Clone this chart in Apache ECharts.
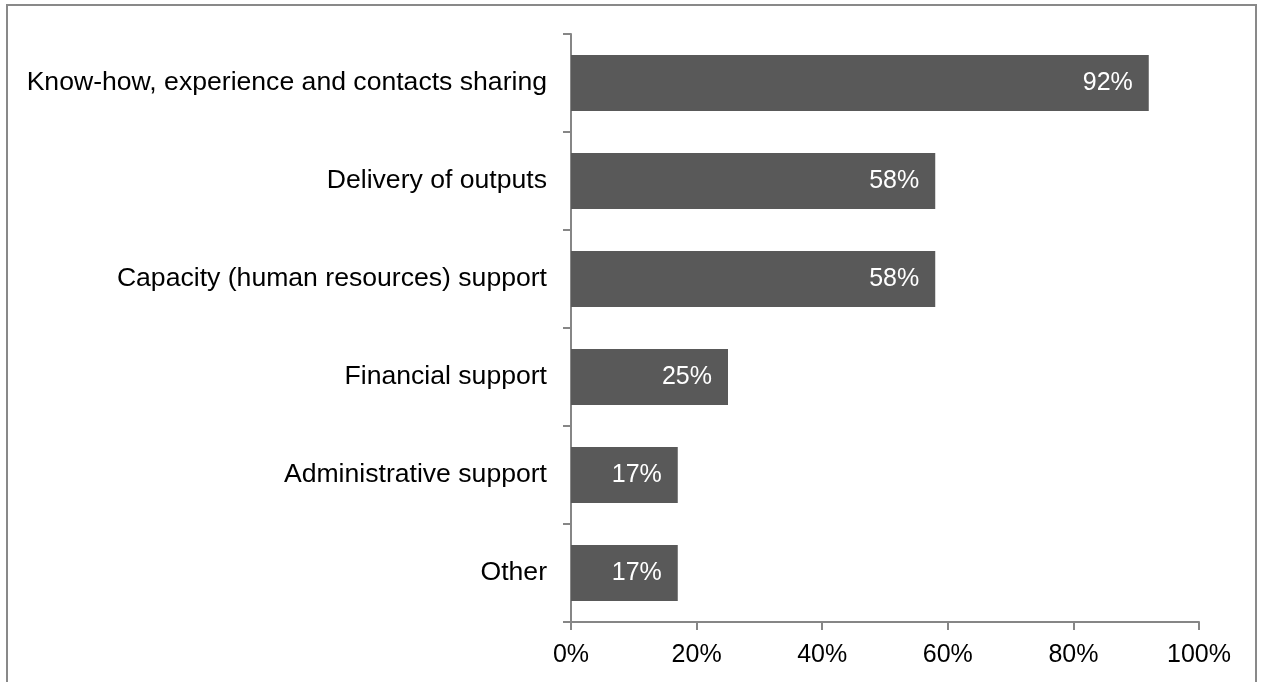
<!DOCTYPE html>
<html>
<head>
    <meta charset="utf-8">
    <title>ECharts</title>
    <script src="https://cdn.jsdelivr.net/npm/echarts@6/dist/echarts.min.js"></script>
    <style>
        html, body { margin: 0; padding: 0; background: #fff; }
        #frame { position: absolute; left: 6px; top: 4px; width: 1251px; height: 720px; border: 2px solid #898989; box-sizing: border-box; }
        #main { position: absolute; left: 0; top: 0; width: 1263px; height: 682px; }
    </style>
</head>
<body>
<div id="frame"></div>
<div id="main"></div>
<script type="text/javascript">
// categories top to bottom, shares as fractions
var categories = [
    'Know-how, experience and contacts sharing',
    'Delivery of outputs',
    'Capacity (human resources) support',
    'Financial support',
    'Administrative support',
    'Other'
];
var shares = [0.92, 0.58, 0.58, 0.25, 0.17, 0.17];
var xTicks = [0, 0.2, 0.4, 0.6, 0.8, 1];

var axisColor = '#868686';
var font = 'Liberation Sans, Arial, sans-serif';

var myChart = echarts.init(document.getElementById('main'));
myChart.setOption({
    animation: false,
    grid: { left: 571, right: 64, top: 34, bottom: 60, containLabel: false },
    xAxis: {
        type: 'value',
        min: xTicks[0],
        max: xTicks[xTicks.length - 1],
        interval: 0.2,
        axisLine: { show: true, lineStyle: { color: axisColor, width: 2 } },
        axisTick: { show: true, length: 8, lineStyle: { color: axisColor, width: 2 } },
        splitLine: { show: false },
        axisLabel: {
            margin: 21,
            color: '#000',
            fontSize: 25,
            fontFamily: font,
            formatter: function (v) { return Math.round(v * 100) + '%'; }
        }
    },
    yAxis: {
        type: 'category',
        inverse: true,
        data: categories,
        axisLine: { show: true, lineStyle: { color: axisColor, width: 2 } },
        axisTick: { show: true, length: 8, interval: 0, lineStyle: { color: axisColor, width: 2 } },
        axisLabel: { margin: 24, color: '#000', fontSize: 26.6, fontFamily: font, padding: [3, 0, 0, 0] }
    },
    series: [{
        type: 'bar',
        data: shares,
        barWidth: 56,
        itemStyle: { color: '#595959' },
        label: {
            show: true,
            position: 'insideRight',
            distance: 16,
            color: '#fff',
            fontSize: 25,
            fontFamily: font,
            formatter: function (p) { return Math.round(p.value * 100) + '%'; }
        }
    }]
});
</script>
</body>
</html>
